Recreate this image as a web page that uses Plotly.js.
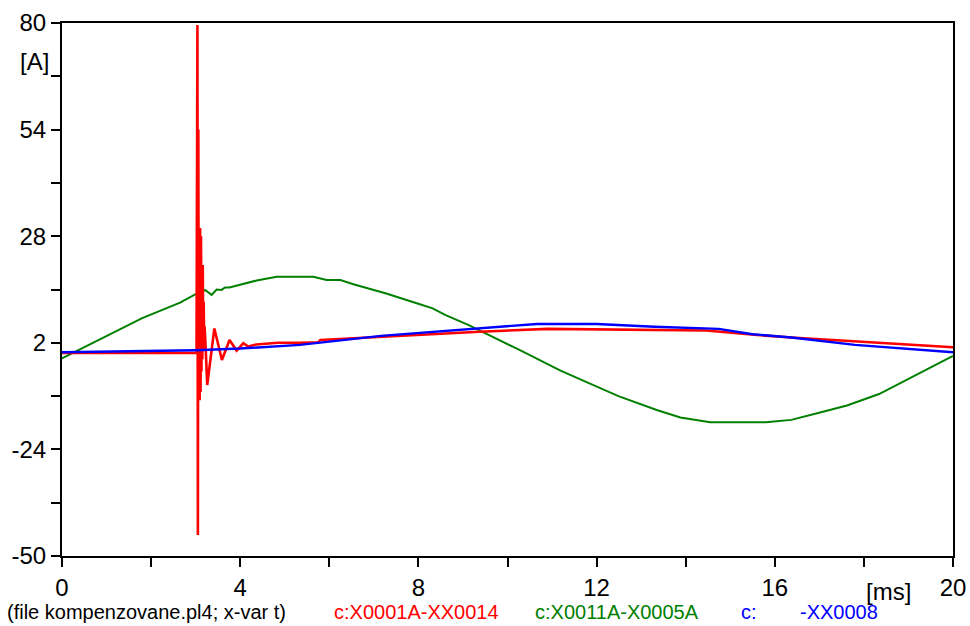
<!DOCTYPE html>
<html>
<head>
<meta charset="utf-8">
<script src="https://cdn.plot.ly/plotly-3.0.1.min.js"></script>
<style>html,body{margin:0;padding:0;background:#fff;}#chart{width:970px;height:626px;}</style>
</head>
<body>
<div id="chart"></div>
<script>
// Time [ms] and current [A] for each trace
var redX = [0, 3.02, 3.04, 3.05, 3.06, 3.07, 3.08, 3.09, 3.10, 3.11, 3.12, 3.13, 3.14, 3.15, 3.16, 3.17, 3.18, 3.19, 3.2, 3.22, 3.26, 3.42, 3.59, 3.76, 3.92, 4.07, 4.18, 4.36, 4.5, 4.85, 5.35, 5.75, 5.8, 7.16, 9.37, 10.9, 14.46, 15.6, 16.37, 20];
var redY = [-0.5, -0.5, 79.5, -44.9, 54, -12, 30, -12, 30, -10, 28, -5, 21, -2, 21, 0, 12, 3, 6, 2, -8.3, 5.5, -2.2, 2.7, 0.1, 1.9, 1.1, 1.6, 1.7, 2.0, 2.0, 2.1, 2.7, 3.5, 4.7, 5.4, 5.0, 3.9, 3.3, 0.9];

var greenX = [0, 1.0, 1.8, 2.65, 3.02, 3.11, 3.21, 3.36, 3.47, 3.58, 3.66, 3.76, 4.07, 4.37, 4.82, 5.34, 5.64, 5.94, 6.25, 6.54, 7.26, 7.98, 8.32, 8.6, 9.13, 10.28, 11.19, 12.49, 13.35, 13.88, 14.55, 15.8, 16.37, 16.95, 17.62, 18.34, 19.16, 20];
var greenY = [-1.8, 3.6, 8.0, 11.8, 14.0, 14.1, 14.9, 13.7, 15.0, 14.9, 15.5, 15.5, 16.3, 17.2, 18.1, 18.1, 18.1, 17.3, 17.3, 16.3, 14.1, 11.6, 10.4, 8.8, 6.3, 0.2, -4.8, -11, -14.4, -16.2, -17.4, -17.4, -16.8, -15.2, -13.3, -10.5, -6.0, -1.2];

var blueX = [0, 3.0, 4.0, 4.9, 5.34, 7.16, 9.27, 10.66, 12.0, 13.3, 14.74, 15.5, 16.37, 17.8, 20];
var blueY = [-0.3, 0.2, 0.6, 1.2, 1.5, 3.7, 5.4, 6.6, 6.6, 5.9, 5.4, 4.1, 3.3, 1.5, -0.3];

var xTickVals = [0, 4, 8, 12, 16, 20];
var yTickVals = [-50, -24, 2, 28, 54, 80];

var fileLabel = "(file kompenzovane.pl4; x-var t)";
var redLabel = "c:X0001A-XX0014";
var greenLabel = "c:X0011A-X0005A";
var blueLabelA = "c:";
var blueLabelB = "-XX0008";
var xUnit = "[ms]";
var yUnit = "[A]";

var traces = [
  {x: greenX, y: greenY, type: 'scatter', mode: 'lines', line: {color: '#008000', width: 2}, hoverinfo: 'none'},
  {x: redX, y: redY, type: 'scatter', mode: 'lines', line: {color: '#ff0000', width: 2.6}, hoverinfo: 'none'},
  {x: blueX, y: blueY, type: 'scatter', mode: 'lines', line: {color: '#0000ff', width: 2.4}, hoverinfo: 'none'}
];

var F = 'Liberation Sans, Arial, sans-serif';
function px2x(p) { return (p - 62) / 891; }
function py2y(p) { return (556 - p) / 533; }

var layout = {
  width: 970, height: 626,
  margin: {l: 62, r: 17, t: 23, b: 70},
  paper_bgcolor: '#fff', plot_bgcolor: '#fff',
  showlegend: false,
  font: {family: F, color: '#000'},
  xaxis: {
    range: [0, 20], tickvals: xTickVals, ticktext: xTickVals.map(String),
    ticks: 'outside', ticklen: 9, tickwidth: 2, tickcolor: '#000',
    minor: {dtick: 2, tick0: 0, ticks: 'outside', ticklen: 9, tickwidth: 2, tickcolor: '#000', showgrid: false},
    showline: true, linecolor: '#000', linewidth: 2, mirror: true,
    showgrid: false, zeroline: false,
    tickfont: {family: F, size: 24, color: '#000'}
  },
  yaxis: {
    range: [-50, 80], tickvals: yTickVals, ticktext: yTickVals.map(String),
    ticks: 'outside', ticklen: 9, tickwidth: 2, tickcolor: '#000',
    minor: {dtick: 13, tick0: -50, ticks: 'outside', ticklen: 9, tickwidth: 2, tickcolor: '#000', showgrid: false},
    showline: true, linecolor: '#000', linewidth: 2, mirror: true,
    showgrid: false, zeroline: false,
    tickfont: {family: F, size: 24, color: '#000'}
  },
  annotations: [
    {text: yUnit, xref: 'paper', yref: 'paper', x: px2x(34), y: py2y(61), xanchor: 'center', yanchor: 'middle', showarrow: false, font: {family: F, size: 24, color: '#000'}},
    {text: xUnit, xref: 'paper', yref: 'paper', x: px2x(888), y: py2y(591), xanchor: 'center', yanchor: 'middle', showarrow: false, font: {family: F, size: 24, color: '#000'}},
    {text: fileLabel, xref: 'paper', yref: 'paper', x: px2x(5), y: py2y(612), xanchor: 'left', yanchor: 'middle', showarrow: false, font: {family: F, size: 20, color: '#000'}},
    {text: redLabel, xref: 'paper', yref: 'paper', x: px2x(332), y: py2y(612), xanchor: 'left', yanchor: 'middle', showarrow: false, font: {family: F, size: 20, color: '#ff0000'}},
    {text: greenLabel, xref: 'paper', yref: 'paper', x: px2x(533), y: py2y(612), xanchor: 'left', yanchor: 'middle', showarrow: false, font: {family: F, size: 20, color: '#008000'}},
    {text: blueLabelA, xref: 'paper', yref: 'paper', x: px2x(739), y: py2y(612), xanchor: 'left', yanchor: 'middle', showarrow: false, font: {family: F, size: 20, color: '#0000ff'}},
    {text: blueLabelB, xref: 'paper', yref: 'paper', x: px2x(798), y: py2y(612), xanchor: 'left', yanchor: 'middle', showarrow: false, font: {family: F, size: 20, color: '#0000ff'}}
  ]
};

Plotly.newPlot('chart', traces, layout, {staticPlot: true, displayModeBar: false});
</script>
</body>
</html>
